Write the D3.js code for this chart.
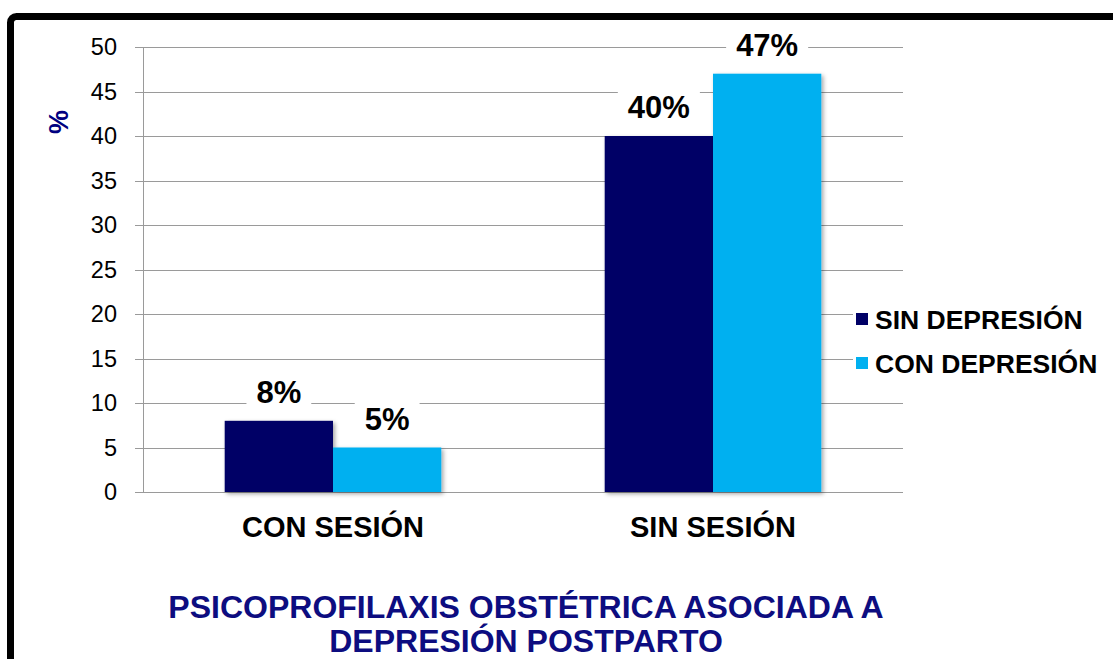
<!DOCTYPE html>
<html><head><meta charset="utf-8">
<script src="https://cdn.jsdelivr.net/npm/d3@7"></script>
<style>body{margin:0;background:#fff}svg{display:block;font-family:"Liberation Sans",Arial,sans-serif}</style>
</head><body>
<svg id="c" width="1113" height="659"></svg>
<script>
const categories = ["CON SESIÓN", "SIN SESIÓN"];
const seriesNames = ["SIN DEPRESIÓN", "CON DEPRESIÓN"];
const sinDepresion = [8, 40];
const conDepresion = [5, 47];
const valueLabels = [["8%", "40%"], ["5%", "47%"]];
const yTicks = [0, 5, 10, 15, 20, 25, 30, 35, 40, 45, 50];
const colors = ["#000066", "#00B0F0"];
const series = [sinDepresion, conDepresion];

const svg = d3.select("#c");
const defs = svg.append("defs");
const f = defs.append("filter").attr("id","sh").attr("x","-10%").attr("y","-10%").attr("width","130%").attr("height","130%");
f.append("feDropShadow").attr("dx",2).attr("dy",2).attr("stdDeviation",2).attr("flood-color","#000").attr("flood-opacity",0.35);

// border
svg.append("rect").attr("x",10.5).attr("y",16.5).attr("width",1200).attr("height",800)
  .attr("rx",6).attr("fill","none").attr("stroke","#000").attr("stroke-width",7);

const L = 143, R = 903, T = 47, B = 492;
const y = d3.scaleLinear().domain([0, 50]).range([B, T]);
const x0 = d3.scaleBand().domain(categories).range([L, R]).paddingInner(0.43).paddingOuter(0.215);
const x1 = d3.scaleBand().domain([0, 1]).range([0, x0.bandwidth()]);

// gridlines
svg.append("g").selectAll("line").data(yTicks).join("line")
  .attr("x1", 135).attr("x2", R).attr("y1", d => Math.round(y(d)) + 0.5).attr("y2", d => Math.round(y(d)) + 0.5)
  .attr("stroke", "#9a9a9a").attr("stroke-width", 1);
svg.append("line").attr("x1", L + 0.5).attr("x2", L + 0.5).attr("y1", T).attr("y2", B).attr("stroke", "#9a9a9a");

// tick labels
svg.append("g").selectAll("text").data(yTicks).join("text")
  .attr("x", 117).attr("y", d => y(d)).attr("dy", "0.36em").attr("text-anchor", "end")
  .attr("font-size", 23.5).attr("fill", "#000").text(d => d);

// bars
series.forEach((s, si) => {
  svg.append("g").selectAll("rect").data(s).join("rect")
    .attr("x", (d, i) => x0(categories[i]) + x1(si))
    .attr("y", d => y(d)).attr("width", x1.bandwidth()).attr("height", d => B - y(d))
    .attr("fill", colors[si]).attr("filter", "url(#sh)");
});

// value labels
series.forEach((s, si) => {
  s.forEach((d, i) => {
    const cx = x0(categories[i]) + x1(si) + x1.bandwidth() / 2;
    const cy = y(d) - 29;
    const g = svg.append("g");
    const bg = g.append("rect").attr("fill", "#fff");
    const t = g.append("text").attr("x", cx).attr("y", cy).attr("dy", "0.36em").attr("text-anchor", "middle")
      .attr("font-size", 31).attr("font-weight", "bold").attr("fill", "#000").text(valueLabels[si][i]);
    const bb = t.node().getBBox();
    bg.attr("x", bb.x - 10).attr("y", bb.y).attr("width", bb.width + 20).attr("height", bb.height);
  });
});

// category labels
svg.append("g").selectAll("text").data(categories).join("text")
  .attr("x", d => x0(d) + x0.bandwidth() / 2).attr("y", 527).attr("dy", "0.36em").attr("text-anchor", "middle")
  .attr("font-size", 29).attr("font-weight", "bold").attr("fill", "#000").text(d => d);

// y title
svg.append("text").attr("transform", "translate(58,122) rotate(-90)").attr("text-anchor", "middle").attr("dy", "0.36em")
  .attr("font-size", 27).attr("font-weight", "bold").attr("fill", "#000080").text("%");

// legend
const lg = svg.append("g");
lg.append("rect").attr("x", 853).attr("y", 298).attr("width", 258).attr("height", 84).attr("fill", "#fff");
seriesNames.forEach((n, i) => {
  const yy = 319 + i * 44;
  lg.append("rect").attr("x", 856).attr("y", yy - 6).attr("width", 12).attr("height", 12).attr("fill", colors[i]);
  lg.append("text").attr("x", 875).attr("y", yy).attr("dy", "0.36em").attr("font-size", 26.5).attr("font-weight", "bold").attr("fill", "#000").text(n);
});

// title
const title = ["PSICOPROFILAXIS OBSTÉTRICA ASOCIADA A", "DEPRESIÓN POSTPARTO"];
svg.append("g").selectAll("text").data(title).join("text")
  .attr("x", 526).attr("y", (d, i) => 606 + i * 34).attr("dy", "0.36em").attr("text-anchor", "middle")
  .attr("font-size", 32).attr("font-weight", "bold").attr("fill", "#0d0d80").text(d => d);
</script>
</body></html>
